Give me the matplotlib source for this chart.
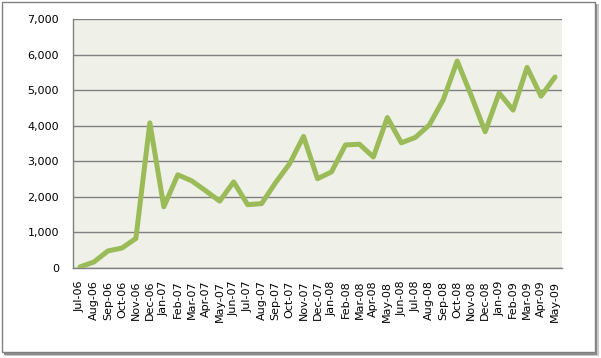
import matplotlib
matplotlib.use("Agg")
import matplotlib.pyplot as plt
from matplotlib.patches import Rectangle

months = ["Jul-06", "Aug-06", "Sep-06", "Oct-06", "Nov-06", "Dec-06",
          "Jan-07", "Feb-07", "Mar-07", "Apr-07", "May-07", "Jun-07",
          "Jul-07", "Aug-07", "Sep-07", "Oct-07", "Nov-07", "Dec-07",
          "Jan-08", "Feb-08", "Mar-08", "Apr-08", "May-08", "Jun-08",
          "Jul-08", "Aug-08", "Sep-08", "Oct-08", "Nov-08", "Dec-08",
          "Jan-09", "Feb-09", "Mar-09", "Apr-09", "May-09"]
values = [30, 170, 480, 560, 830, 4080,
          1720, 2620, 2450, 2170, 1880, 2420,
          1780, 1810, 2400, 2930, 3700, 2510,
          2700, 3460, 3480, 3120, 4230, 3520,
          3670, 4020, 4730, 5820, 4850, 3830,
          4920, 4440, 5640, 4830, 5370]
yticks = [0, 1000, 2000, 3000, 4000, 5000, 6000, 7000]

W, H = 601, 358
fig = plt.figure(figsize=(W / 100, H / 100), dpi=100)
fig.patch.set_facecolor("white")

# outer frame with drop shadow
fig.patches.append(Rectangle((5 / W, 2 / H), 594 / W, 352 / H,
                             transform=fig.transFigure, facecolor="#c8c8c8",
                             edgecolor="none", zorder=-4))
fig.patches.append(Rectangle((4 / W, 3 / H), 593 / W, 351 / H,
                             transform=fig.transFigure, facecolor="#8c8c8c",
                             edgecolor="none", zorder=-3))
fig.patches.append(Rectangle((1.5 / W, 6 / H), 593 / W, 350.5 / H,
                             transform=fig.transFigure, facecolor="white",
                             edgecolor="#808080", linewidth=1.0, zorder=-2))

ax = fig.add_axes([73 / W, 1 - 268 / H, 489 / W, 249 / H])
ax.set_zorder(1)
ax.set_facecolor("#eff1e8")
x = list(range(len(months)))
ax.plot(x, values, color="#9bbb59", linewidth=3.6, solid_joinstyle="round",
        solid_capstyle="round", zorder=3)
ax.set_xlim(-0.5, len(months) - 0.5)
ax.set_ylim(0, 7000)
ax.set_yticks(yticks)
ax.set_yticklabels([f"{v:,}" for v in yticks], fontsize=8)
ax.set_xticks(x)
ax.set_xticklabels(months, rotation=90, fontsize=8)
ax.grid(axis="y", color="#808080", linewidth=1.0, zorder=1)
ax.set_axisbelow(True)
for s in ["top", "right"]:
    ax.spines[s].set_visible(False)
for s in ["left", "bottom"]:
    ax.spines[s].set_color("#808080")
    ax.spines[s].set_linewidth(1.0)
ax.tick_params(axis="y", length=0, pad=10)
ax.tick_params(axis="x", length=0, pad=9)

fig.savefig("out.png", dpi=100)
